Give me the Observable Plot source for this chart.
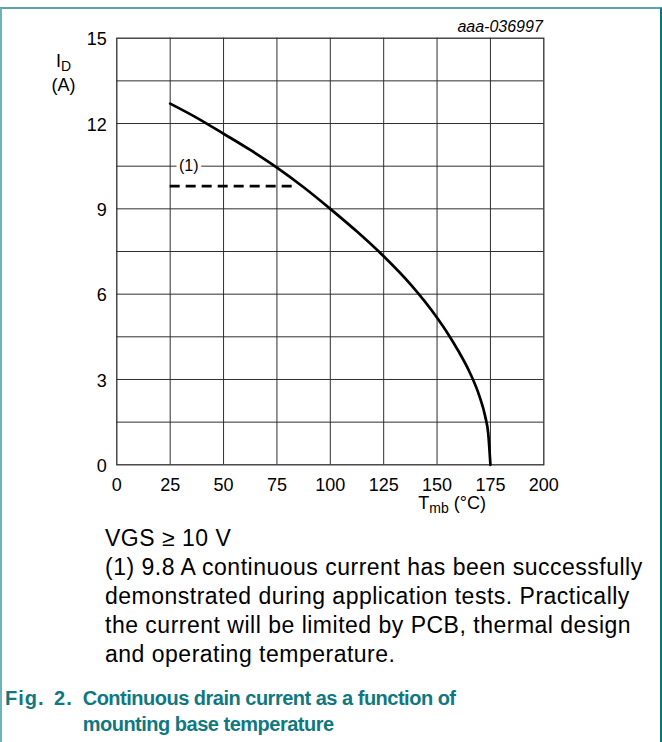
<!DOCTYPE html>
<html><head><meta charset="utf-8">
<script src="https://cdn.jsdelivr.net/npm/d3@7"></script>
<script src="https://cdn.jsdelivr.net/npm/@observablehq/plot@0.6"></script>
<style>
body{margin:0;background:#fff;font-family:Arial,"Liberation Sans",sans-serif;}
#wrap{position:relative;width:662px;height:742px;overflow:hidden;background:#fff;}
#frame{position:absolute;left:0;top:7px;width:658px;height:760px;border-top:2px solid #5aa5ad;border-left:2px solid #6cb3ba;border-right:2px solid #0b7680;pointer-events:none;}
#chart{position:absolute;left:0;top:0;}
.note{position:absolute;left:105px;white-space:nowrap;color:#000;font-size:23px;letter-spacing:0.5px;line-height:29px;}
.cap{position:absolute;white-space:nowrap;color:#107880;font-weight:bold;font-size:20px;letter-spacing:-0.5px;line-height:26px;}
</style></head>
<body>
<div id="wrap">
  <div id="chart"></div>
  <div id="notes"></div>
  <div id="frame"></div>
</div>
<script>
// ---- data ----
const tmb = [25, 37.5, 50, 62.5, 75, 87.5, 100, 112.5, 125, 137.5, 150, 155, 160, 165, 170, 172.5, 174, 175];
const idA = [12.7, 12.2, 11.64, 11.07, 10.45, 9.76, 9.0, 8.2, 7.33, 6.35, 5.17, 4.62, 4.0, 3.3, 2.38, 1.72, 1.08, 0];
const limitT = [25, 83];
const limitI = [9.8];
const limitLabel = ["(1)"];
const limitLabelPos = [33.7, 10.5];
const xTicks = [0, 25, 50, 75, 100, 125, 150, 175, 200];
const yTicks = [0, 3, 6, 9, 12, 15];
const yGrid = [1.5, 3, 4.5, 6, 7.5, 9, 10.5, 12, 13.5];
const xGrid = [25, 50, 75, 100, 125, 150, 175];
const figCode = "aaa-036997";
const noteLines = [
  "VGS \u2265 10 V",
  "(1) 9.8 A continuous current has been successfully",
  "demonstrated during application tests. Practically",
  "the current will be limited by PCB, thermal design",
  "and operating temperature."
];
const figNum = "Fig. 2.";
const figTitle = ["Continuous drain current as a function of", "mounting base temperature"];

const curve = tmb.map((t, i) => ({t, i: idA[i]}));
const font = "Arial, 'Liberation Sans', sans-serif";
const gridColor = "#2e2e2e";

const chart = Plot.plot({
  width: 662, height: 520,
  marginLeft: 116.3, marginRight: 118.7, marginTop: 37.7, marginBottom: 55.7,
  x: {domain: [0, 200]},
  y: {domain: [0, 15]},
  style: {fontFamily: font, fontSize: "18px", color: "#000", background: "transparent"},
  marks: [
    Plot.ruleX(xGrid, {stroke: gridColor, strokeWidth: 1}),
    Plot.ruleY(yGrid, {stroke: gridColor, strokeWidth: 1}),
    Plot.frame({stroke: gridColor, strokeWidth: 1.3}),
    Plot.axisX(xTicks, {tickSize: 0, tickPadding: 13, fontSize: 18, label: null}),
    Plot.axisY(yTicks, {tickSize: 0, tickPadding: 10, fontSize: 18, label: null, dy: 1.5}),
    Plot.line(curve, {x: "t", y: "i", stroke: "#000", strokeWidth: 2.7, curve: "monotone-x"}),
    Plot.ruleY(limitI, {x1: limitT[0], x2: limitT[1], stroke: "#000", strokeWidth: 2.7, strokeDasharray: "10,6"}),
    Plot.text(limitLabel, {x: () => limitLabelPos[0], y: () => limitLabelPos[1], text: d => d, fontSize: 16, fill: "#000", stroke: "white", strokeWidth: 7}),
    Plot.text([figCode], {frameAnchor: "top-right", text: d => d, lineAnchor: "bottom", dy: -6, dx: -1, fontSize: 16, fontStyle: "italic", fill: "#000", textAnchor: "end"})
  ]
});
document.getElementById("chart").appendChild(chart);

// axis titles with subscripts
const svg = d3.select(chart);
const yl = svg.append("text").attr("x", 63.5).attr("y", 67).attr("text-anchor", "middle")
  .attr("font-size", 18).attr("font-family", font).attr("fill", "#000");
yl.append("tspan").text("I");
yl.append("tspan").attr("font-size", 14).attr("dy", 4).text("D");
svg.append("text").attr("x", 63.5).attr("y", 90.7).attr("text-anchor", "middle")
  .attr("font-size", 18).attr("font-family", font).attr("fill", "#000").text("(A)");
const xl = svg.append("text").attr("x", 418.3).attr("y", 509).attr("text-anchor", "start")
  .attr("font-size", 18).attr("font-family", font).attr("fill", "#000");
xl.append("tspan").text("T");
xl.append("tspan").attr("font-size", 14).attr("dy", 4).text("mb");
xl.append("tspan").attr("dy", -4).text(" (\u00b0C)");

// notes and caption
const notes = document.getElementById("notes");
noteLines.forEach((s, k) => {
  const d = document.createElement("div");
  d.className = "note";
  d.style.top = (524 + 29 * k) + "px";
  d.textContent = s;
  notes.appendChild(d);
});
const f = document.createElement("div");
f.className = "cap"; f.style.left = "5px"; f.style.top = "685px";
f.style.letterSpacing = "1px"; f.style.wordSpacing = "3px";
f.textContent = figNum;
notes.appendChild(f);
figTitle.forEach((s, k) => {
  const d = document.createElement("div");
  d.className = "cap"; d.style.left = "82.7px"; d.style.top = (685 + 26 * k) + "px";
  d.textContent = s;
  notes.appendChild(d);
});
</script>
</body></html>
